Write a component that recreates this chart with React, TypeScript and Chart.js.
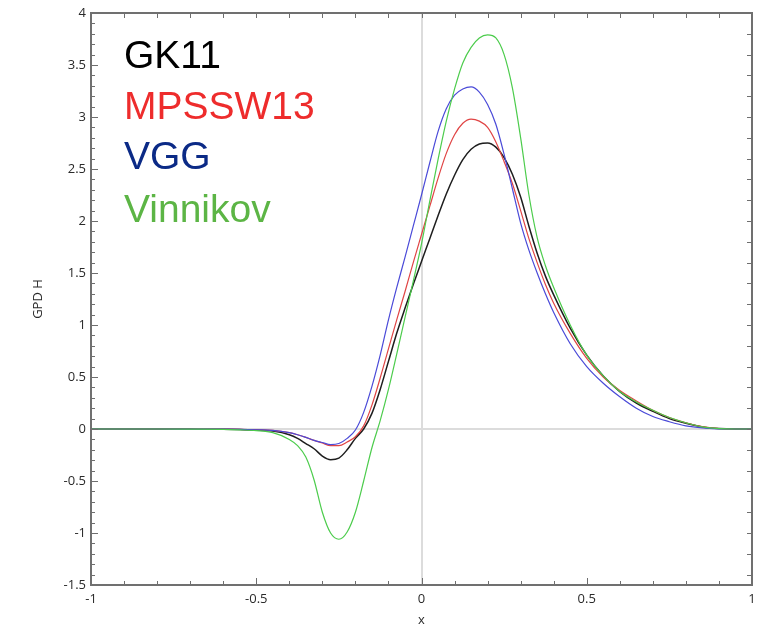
import { useEffect, useRef } from "react";
import { Chart, registerables } from "chart.js";

Chart.register(...registerables);

const xValues = [-1, -0.9, -0.8, -0.7, -0.6, -0.55, -0.5, -0.45, -0.4, -0.375, -0.35, -0.325, -0.3, -0.275, -0.25, -0.225, -0.2, -0.175, -0.15, -0.125, -0.1, -0.075, -0.05, -0.025, 0, 0.025, 0.05, 0.075, 0.1, 0.125, 0.15, 0.175, 0.2, 0.225, 0.25, 0.275, 0.3, 0.325, 0.35, 0.375, 0.4, 0.45, 0.5, 0.55, 0.6, 0.65, 0.7, 0.75, 0.8, 0.85, 0.9, 0.95, 1];

const gk11 = [0, 0, 0, -0.001, -0.003, -0.006, -0.01, -0.02, -0.055, -0.09, -0.14, -0.19, -0.26, -0.295, -0.28, -0.2, -0.09, 0.0, 0.15, 0.38, 0.65, 0.92, 1.16, 1.39, 1.61, 1.83, 2.05, 2.26, 2.44, 2.59, 2.69, 2.74, 2.75, 2.71, 2.61, 2.45, 2.23, 1.95, 1.69, 1.47, 1.29, 0.97, 0.71, 0.51, 0.36, 0.25, 0.17, 0.1, 0.055, 0.02, 0.004, 0, 0];

const mpssw13 = [0, 0, 0, -0.001, -0.002, -0.004, -0.008, -0.013, -0.035, -0.055, -0.08, -0.11, -0.135, -0.16, -0.16, -0.125, -0.075, 0.03, 0.23, 0.49, 0.77, 1.05, 1.32, 1.6, 1.87, 2.14, 2.41, 2.65, 2.83, 2.94, 2.98, 2.96, 2.9, 2.76, 2.57, 2.36, 2.1, 1.83, 1.6, 1.39, 1.21, 0.92, 0.68, 0.5, 0.37, 0.27, 0.18, 0.11, 0.06, 0.022, 0.005, 0, 0];

const vgg = [0, 0, 0, -0.001, -0.002, -0.004, -0.008, -0.013, -0.035, -0.055, -0.08, -0.11, -0.13, -0.15, -0.14, -0.09, -0.01, 0.16, 0.41, 0.71, 1.05, 1.36, 1.65, 1.95, 2.25, 2.56, 2.86, 3.08, 3.21, 3.27, 3.29, 3.24, 3.12, 2.93, 2.64, 2.31, 1.98, 1.72, 1.5, 1.3, 1.12, 0.82, 0.6, 0.44, 0.31, 0.2, 0.12, 0.07, 0.03, 0.01, 0.002, 0, 0];

const vinnikov = [0, 0, 0, -0.001, -0.003, -0.008, -0.015, -0.035, -0.1, -0.16, -0.27, -0.49, -0.8, -1.0, -1.06, -0.99, -0.8, -0.5, -0.18, 0.08, 0.38, 0.72, 1.07, 1.42, 1.78, 2.19, 2.59, 2.96, 3.27, 3.52, 3.67, 3.76, 3.79, 3.76, 3.6, 3.28, 2.8, 2.25, 1.84, 1.57, 1.36, 1.0, 0.71, 0.51, 0.36, 0.26, 0.18, 0.11, 0.06, 0.02, 0.004, 0, 0];

const seriesNames = ["GK11", "MPSSW13", "VGG", "Vinnikov"];
const seriesValues = [gk11, mpssw13, vgg, vinnikov];
const lineColors = ["#1e1e1e", "#e04444", "#4a4ad8", "#4ccc4c"];
const legendColors = ["#000000", "#ee2c2c", "#0b2a86", "#5cb545"];

const xMin = -1;
const xMax = 1;
const yMin = -1.5;
const yMax = 4;
const majorStep = 0.5;
const xTitle = "x";
const yTitle = "GPD H";

const frameTicks = {
  id: "frameTicks",
  afterDatasetsDraw(chart: any) {
    const { ctx, chartArea, scales } = chart;
    const { left, right, top, bottom } = chartArea;
    const xs = scales.x;
    const ys = scales.y;
    ctx.save();
    ctx.strokeStyle = "#6e6e6e";
    ctx.lineWidth = 1;
    ctx.beginPath();
    for (let i = 0; i <= 20; i++) {
      const v = xMin + i * 0.1;
      const px = Math.round(xs.getPixelForValue(v)) + 0.5;
      const major = i % 5 === 0;
      ctx.moveTo(px, bottom);
      ctx.lineTo(px, bottom - (major ? 7 : 4));
      ctx.moveTo(px, top);
      ctx.lineTo(px, top + 5);
    }
    for (let i = 0; i <= 55; i++) {
      const v = yMin + i * 0.1;
      const py = Math.round(ys.getPixelForValue(v)) + 0.5;
      const major = i % 5 === 0;
      ctx.moveTo(left, py);
      ctx.lineTo(left + (major ? 7 : 4), py);
      if (Math.round(v * 10) % 2 === 0) {
        ctx.moveTo(right, py);
        ctx.lineTo(right - 5, py);
      }
    }
    ctx.stroke();
    ctx.lineWidth = 2;
    ctx.strokeStyle = "#707070";
    ctx.strokeRect(left, top, right - left, bottom - top);
    ctx.restore();
  },
};

const fmt = (v: any) => String(Number(Number(v).toFixed(2)));

export default function App() {
  const canvasRef = useRef<HTMLCanvasElement | null>(null);

  useEffect(() => {
    document.body.style.margin = "0";
    const canvas = canvasRef.current;
    if (!canvas) return;
    const datasets = seriesNames.map((name, si) => ({
      label: name,
      data: xValues.map((x, i) => ({ x, y: seriesValues[si][i] })),
      borderColor: lineColors[si],
      backgroundColor: lineColors[si],
      borderWidth: si === 0 ? 1.5 : 1.2,
      pointRadius: 0,
      fill: false,
      cubicInterpolationMode: "monotone" as const,
    }));
    const tickFont = { family: "'Open Sans', 'DejaVu Sans', sans-serif", size: 13 };
    const chart = new Chart(canvas, {
      type: "line",
      data: { datasets: datasets.slice().reverse() },
      options: {
        animation: false,
        responsive: true,
        maintainAspectRatio: false,
        layout: { padding: { top: 13, right: 8, left: 0, bottom: 0 } },
        plugins: { legend: { display: false }, tooltip: { enabled: false } },
        scales: {
          x: {
            type: "linear",
            min: xMin,
            max: xMax,
            border: { display: false },
            grid: {
              drawTicks: false,
              lineWidth: 2,
              color: (c: any) => (c.tick && c.tick.value === 0 ? "#dcdcdc" : "rgba(0,0,0,0)"),
            },
            ticks: {
              stepSize: majorStep,
              autoSkip: false,
              maxRotation: 0,
              padding: 6,
              color: "#2a2a2a",
              font: tickFont,
              callback: fmt,
            },
            title: {
              display: true,
              text: xTitle,
              color: "#2a2a2a",
              font: tickFont,
              padding: { top: 0, bottom: 0 },
            },
            afterFit: (s: any) => {
              s.height = 43;
              s.paddingLeft = 0;
              s.paddingRight = 0;
            },
          },
          y: {
            type: "linear",
            min: yMin,
            max: yMax,
            border: { display: false },
            grid: {
              drawTicks: false,
              lineWidth: 2,
              color: (c: any) => (c.tick && c.tick.value === 0 ? "#dcdcdc" : "rgba(0,0,0,0)"),
            },
            ticks: {
              stepSize: majorStep,
              autoSkip: false,
              padding: 5,
              color: "#2a2a2a",
              font: tickFont,
              callback: fmt,
            },
            title: {
              display: true,
              text: yTitle,
              color: "#2a2a2a",
              font: tickFont,
              padding: { top: 30, bottom: 0 },
            },
            afterFit: (s: any) => {
              s.width = 91;
              s.paddingTop = 0;
              s.paddingBottom = 0;
            },
          },
        },
      },
      plugins: [frameTicks],
    });
    return () => chart.destroy();
  }, []);

  const legendTops = [35, 86, 136, 189];

  return (
    <div style={{ position: "relative", width: 760, height: 628, background: "#ffffff" }}>
      <canvas ref={canvasRef} style={{ position: "absolute", left: 0, top: 0 }} />
      {seriesNames.map((name, i) => (
        <div
          key={name}
          style={{
            position: "absolute",
            left: 124,
            top: legendTops[i],
            fontFamily: "'Liberation Sans', Arial, sans-serif",
            fontSize: 39,
            lineHeight: "39px",
            color: legendColors[i],
            whiteSpace: "nowrap",
          }}
        >
          {name}
        </div>
      ))}
    </div>
  );
}
